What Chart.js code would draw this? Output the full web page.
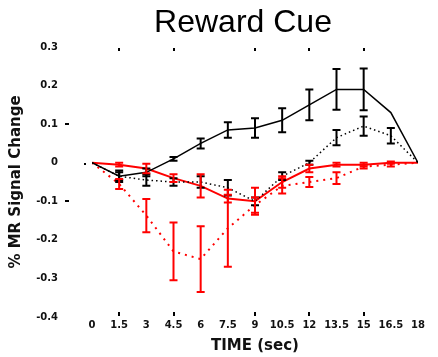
<!DOCTYPE html>
<html lang="en">
<head>
    <meta charset="UTF-8">
    <title>Reward Cue</title>
    <script src="https://cdn.jsdelivr.net/npm/chart.js"></script>
    <style>
        html, body { margin: 0; padding: 0; background: #fff; }
        #wrap { width: 438px; height: 357px; }
    </style>
</head>
<body>
    <div id="wrap"><canvas id="cueChart"></canvas></div>
    <script>
        // time points (sec)
        const times = [0, 1.5, 3, 4.5, 6, 7.5, 9, 10.5, 12, 13.5, 15, 16.5, 18];

        // black solid
        const blackSolid    = [0, -0.035, -0.025, 0.01, 0.05, 0.085, 0.09, 0.11, 0.15, 0.19, 0.19, 0.13, 0];
        const blackSolidErr = [0, 0.015, 0.01, 0.005, 0.013, 0.02, 0.025, 0.031, 0.04, 0.053, 0.054, 0, 0];
        // black dotted
        const blackDotted    = [0, -0.035, -0.045, -0.05, -0.05, -0.065, -0.1, -0.035, 0, 0.065, 0.095, 0.07, 0];
        const blackDottedErr = [0, 0.01, 0.015, 0.01, 0.015, 0.02, 0.01, 0.01, 0.005, 0.02, 0.025, 0.02, 0];
        // red solid
        const redSolid    = [0, -0.005, -0.015, -0.04, -0.06, -0.093, -0.1, -0.05, -0.015, -0.005, -0.005, 0, 0];
        const redSolidErr = [0, 0.005, 0.012, 0.01, 0.03, 0.01, 0.035, 0.015, 0.01, 0.005, 0.005, 0.003, 0];
        // red dotted
        const redDotted    = [0, -0.055, -0.137, -0.23, -0.25, -0.17, -0.11, -0.06, -0.05, -0.04, -0.01, -0.005, 0];
        const redDottedErr = [0, 0.013, 0.043, 0.075, 0.085, 0.1, 0.02, 0.02, 0.013, 0.015, 0.005, 0.005, 0];

        // little frame marks left over on the figure
        const frameTicksX = [1.5, 4.5, 9, 12, 15];
        const frameTicksY = [0.1, -0.1];

        function pts(vals) {
            return times.map((t, i) => ({ x: t, y: vals[i] }));
        }

        // draws vertical error bars with caps
        const errorBars = {
            id: 'errorBars',
            afterDatasetsDraw(chart) {
                const ctx = chart.ctx;
                const xs = chart.scales.x, ys = chart.scales.y;
                chart.data.datasets.forEach((ds) => {
                    if (!ds.errors) return;
                    ctx.save();
                    ctx.strokeStyle = ds.borderColor;
                    ctx.lineWidth = 2;
                    ds.data.forEach((p, i) => {
                        const e = ds.errors[i];
                        if (!e) return;
                        const x = xs.getPixelForValue(p.x);
                        const y1 = ys.getPixelForValue(p.y - e);
                        const y2 = ys.getPixelForValue(p.y + e);
                        ctx.beginPath();
                        ctx.moveTo(x, y1); ctx.lineTo(x, y2);
                        ctx.moveTo(x - 4, y1); ctx.lineTo(x + 4, y1);
                        ctx.moveTo(x - 4, y2); ctx.lineTo(x + 4, y2);
                        ctx.stroke();
                    });
                    ctx.restore();
                });
            }
        };

        // chart title + small tick marks
        const decor = {
            id: 'decor',
            afterDraw(chart) {
                const ctx = chart.ctx;
                const xs = chart.scales.x, ys = chart.scales.y;
                const area = chart.chartArea;
                ctx.save();
                ctx.fillStyle = '#000';
                ctx.font = '32px "Liberation Sans", Arial, sans-serif';
                ctx.textAlign = 'center';
                ctx.textBaseline = 'middle';
                ctx.fillText('Reward Cue', 243, 23);

                frameTicksX.forEach((t) => {
                    const x = Math.round(xs.getPixelForValue(t));
                    ctx.fillRect(x - 1, area.top + 1, 2, 3);
                    ctx.fillRect(x - 1, area.bottom - 5, 2, 4);
                });
                frameTicksY.forEach((v) => {
                    const y = Math.round(ys.getPixelForValue(v));
                    ctx.fillRect(65, y - 1, 4, 2);
                });
                ctx.fillRect(area.left - 8, Math.round(ys.getPixelForValue(0)), 2, 2);
                ctx.restore();
            }
        };

        const ctxCue = document.getElementById('cueChart').getContext('2d');
        const cueChart = new Chart(ctxCue, {
            type: 'line',
            data: {
                datasets: [
                    {
                        label: 'black solid',
                        data: pts(blackSolid),
                        errors: blackSolidErr,
                        borderColor: '#000000',
                        borderWidth: 1.5,
                    },
                    {
                        label: 'black dotted',
                        data: pts(blackDotted),
                        errors: blackDottedErr,
                        borderColor: '#000000',
                        borderWidth: 1.5,
                        borderDash: [1.5, 3],
                    },
                    {
                        label: 'red solid',
                        data: pts(redSolid),
                        errors: redSolidErr,
                        borderColor: '#ff0000',
                        borderWidth: 2,
                    },
                    {
                        label: 'red dotted',
                        data: pts(redDotted),
                        errors: redDottedErr,
                        borderColor: '#ff0000',
                        borderWidth: 2,
                        borderDash: [2, 5],
                    },
                ],
            },
            options: {
                responsive: true,
                maintainAspectRatio: false,
                animation: false,
                layout: { padding: { top: 47, right: 20, left: 0, bottom: 0 } },
                elements: { point: { radius: 0 }, line: { tension: 0 } },
                plugins: {
                    legend: { display: false },
                    tooltip: { enabled: false },
                },
                scales: {
                    x: {
                        type: 'linear',
                        min: 0,
                        max: 18,
                        afterFit: (s) => { s.height = 39; },
                        grid: { display: false, drawTicks: false },
                        border: { display: false },
                        ticks: {
                            stepSize: 1.5,
                            padding: 2,
                            color: '#111',
                            maxRotation: 0,
                            autoSkip: false,
                            font: { family: '"DejaVu Sans"', size: 10, weight: 'bold' },
                            callback: (v) => String(v),
                        },
                        title: {
                            display: true,
                            text: 'TIME (sec)',
                            color: '#111',
                            padding: { top: 0, bottom: 1 },
                            font: { family: '"DejaVu Sans"', size: 15, weight: 'bold' },
                        },
                    },
                    y: {
                        min: -0.4,
                        max: 0.3,
                        afterFit: (s) => { s.width = 92; },
                        grid: { display: false, drawTicks: false },
                        border: { display: false },
                        ticks: {
                            stepSize: 0.1,
                            padding: 34,
                            color: '#111',
                            font: { family: '"DejaVu Sans"', size: 10, weight: 'bold' },
                            callback: (v) => String(Math.round(v * 10) / 10),
                        },
                        title: {
                            display: true,
                            text: '% MR Signal Change',
                            color: '#111',
                            padding: { top: 7, bottom: 0 },
                            font: { family: '"DejaVu Sans"', size: 15, weight: 'bold' },
                        },
                    },
                },
            },
            plugins: [errorBars, decor],
        });
    </script>
</body>
</html>
